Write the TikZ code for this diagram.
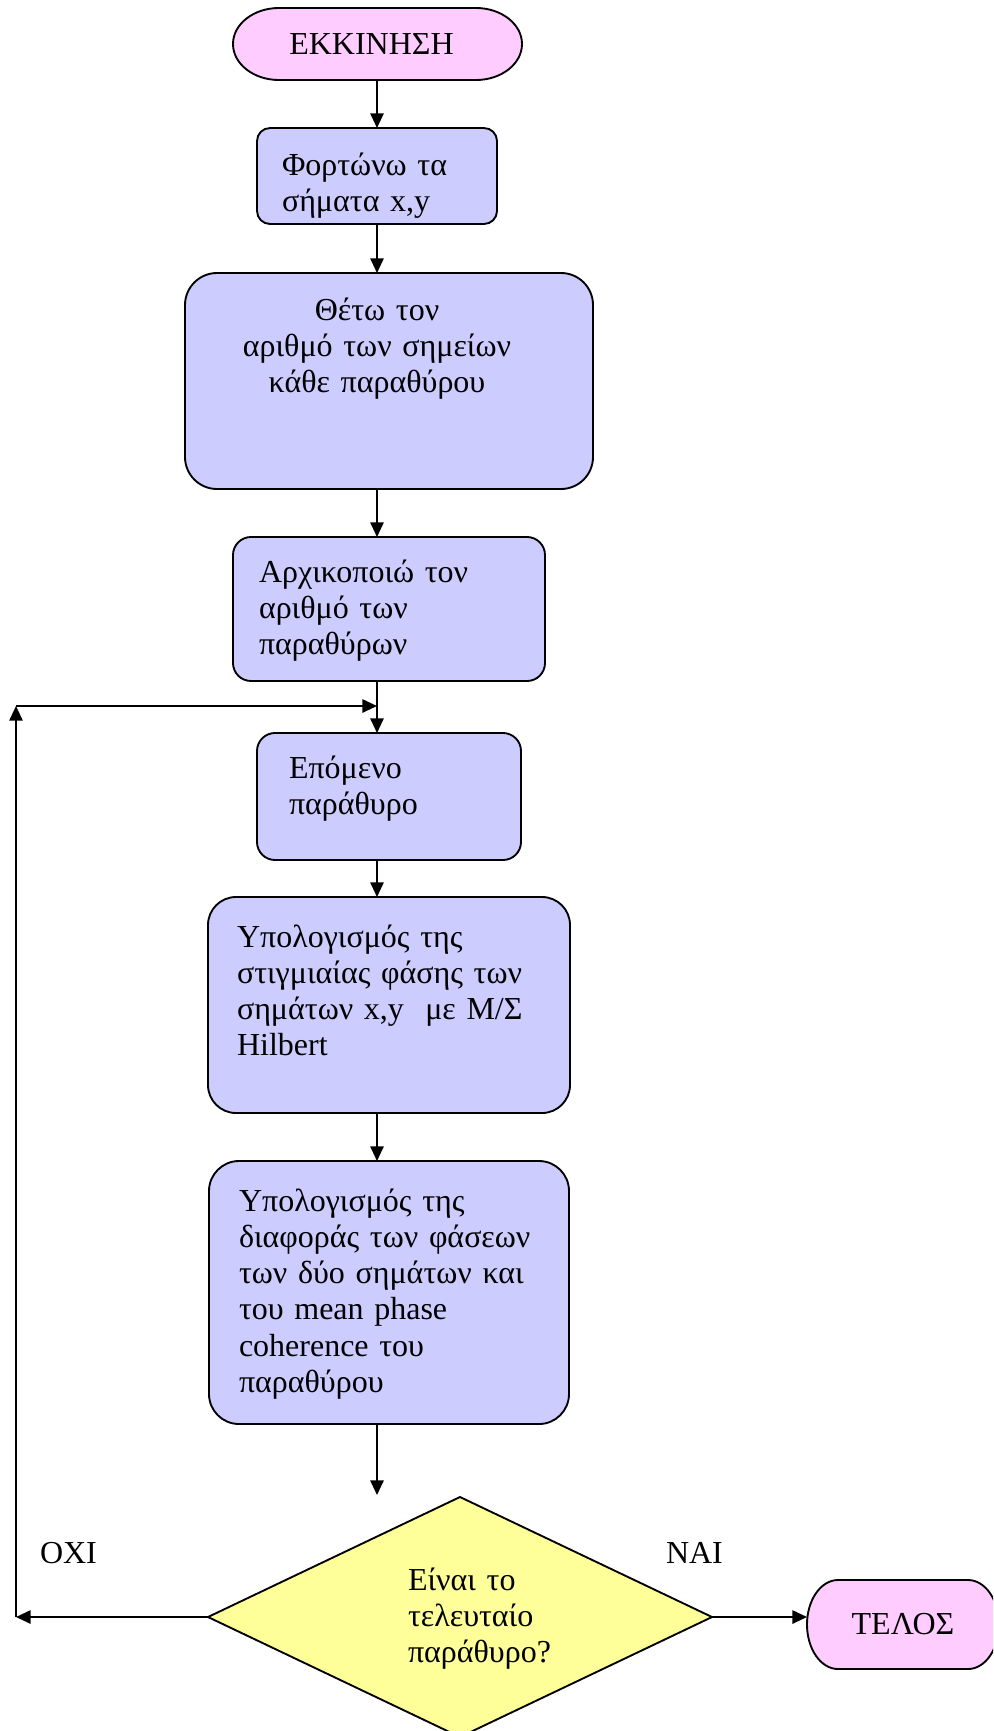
\documentclass[tikz,border=0pt]{standalone}
\usepackage{fontspec}
\setmainfont{Liberation Serif}
\usetikzlibrary{arrows.meta}
\definecolor{boxblue}{HTML}{CCCCFF}
\definecolor{termpink}{HTML}{FFCCFF}
\definecolor{decyellow}{HTML}{FFFF99}
\begin{document}
\begin{tikzpicture}[x=0.75pt,y=0.75pt,
  every node/.style={font=\fontsize{24pt}{27.2pt}\selectfont, inner sep=0pt, outer sep=0pt},
  box/.style={draw, line width=1.4pt, fill=boxblue, rectangle},
  ghost/.style={rectangle, draw=none},
  term/.style={draw, line width=1.4pt, fill=termpink},
  decbox/.style={draw, line width=1.4pt, fill=decyellow, line join=miter},
  txt/.style={anchor=base west, align=left, text width=330pt},
  txtc/.style={anchor=base, align=center, text width=300pt},
  arr/.style={line width=1.4pt, -{Triangle[length=11pt,width=10pt]}}
]
\useasboundingbox (0,0) rectangle (993,-1731);
\fill[white] (0,0) rectangle (993,-1731);
\clip (0,0) rectangle (993,-1731);
\coordinate (axis) at (377,0);

% start terminator
\node[ghost, minimum width=216.75pt, minimum height=54pt] (start) at (377.5,-44) {};
\draw[term] ([xshift=34.5pt]start.north west) -- ([xshift=-34.5pt]start.north east)
  arc[start angle=90,end angle=-90,x radius=34.5pt,y radius=27pt]
  -- ([xshift=34.5pt]start.south west)
  arc[start angle=270,end angle=90,x radius=34.5pt,y radius=27pt] -- cycle;
\node (startlabel) at ([xshift=-4.5pt]start.center) {ΕΚΚΙΝΗΣΗ};

% process boxes
\node[box, minimum width=180pt, minimum height=72pt, rounded corners=9.75pt] (b1) at (377,-176) {};
\node[box, minimum width=306pt, minimum height=162pt, rounded corners=24pt] (b2) at (389,-381) {};
\node[box, minimum width=234pt, minimum height=108pt, rounded corners=13.5pt] (b3) at (389,-609) {};
\node[box, minimum width=198pt, minimum height=95.25pt, rounded corners=13.5pt] (b4) at (389,-796.5) {};
\node[box, minimum width=271.5pt, minimum height=162pt, rounded corners=21pt] (b5) at (389,-1005) {};
\node[box, minimum width=270pt, minimum height=197.25pt, rounded corners=22.5pt] (b6) at (389,-1292.5) {};

\node[txt] (t1) at (282,-175) {Φορτώνω τα\\σήματα x,y};
\node[txtc] (t2) at (377,-320) {Θέτω τον\\αριθμό των σημείων\\κάθε παραθύρου};
\node[txt] (t3) at (259,-582) {Αρχικοποιώ τον\\αριθμό των\\παραθύρων};
\node[txt] (t4) at (289,-778) {Επόμενο\\παράθυρο};
\node[txt] (t5) at (237,-947) {Υπολογισμός της\\στιγμιαίας φάσης των\\σημάτων x,y\ \ με Μ/Σ\\Hilbert};
\node[txt] (t6) at (239,-1211) {Υπολογισμός της\\διαφοράς των φάσεων\\των δύο σημάτων και\\του mean phase\\coherence του\\παραθύρου};

% decision
\coordinate (dl) at (208,-1617);
\coordinate (dt) at (460,-1497);
\coordinate (dr) at (712,-1617);
\coordinate (db) at (460,-1737);
\draw[decbox] (dl) -- (dt) -- (dr) -- (db) -- cycle;
\node[txt] (td) at (408,-1590) {Είναι το\\τελευταίο\\παράθυρο?};

% end terminator
\node[ghost, minimum width=144pt, minimum height=66.75pt] (end) at (903,-1624.5) {};
\draw[term] ([xshift=23.25pt]end.north west) -- ([xshift=-23.25pt]end.north east)
  arc[start angle=90,end angle=-90,x radius=23.25pt,y radius=33.375pt]
  -- ([xshift=23.25pt]end.south west)
  arc[start angle=270,end angle=90,x radius=23.25pt,y radius=33.375pt] -- cycle;
\node (endlabel) at (end.center) {ΤΕΛΟΣ};

% labels
\node[anchor=base west] (no) at (40,-1563) {ΟΧΙ};
\node[anchor=base west] (yes) at (666,-1563) {ΝΑΙ};

% connectors
\draw[arr] (start.south -| axis) -- (b1.north -| axis);
\draw[arr] (b1.south -| axis) -- (b2.north -| axis);
\draw[arr] (b2.south -| axis) -- (b3.north -| axis);
\draw[arr] (b3.south -| axis) -- (b4.north -| axis);
\draw[arr] (b4.south -| axis) -- (b5.north -| axis);
\draw[arr] (b5.south -| axis) -- (b6.north -| axis);
\coordinate (decin) at (377,-1495);
\draw[arr] (b6.south -| axis) -- (decin);
\coordinate (lc) at (16,-1617);
\coordinate (uc) at (16,-706);
\coordinate (joinpt) at (377,-706);
\draw[arr] (dl) -- (lc);
\draw[arr] (lc) -- (uc);
\draw[arr] (uc) -- (joinpt);
\draw[arr] (dr) -- (end.west |- dr);
\end{tikzpicture}
\end{document}
